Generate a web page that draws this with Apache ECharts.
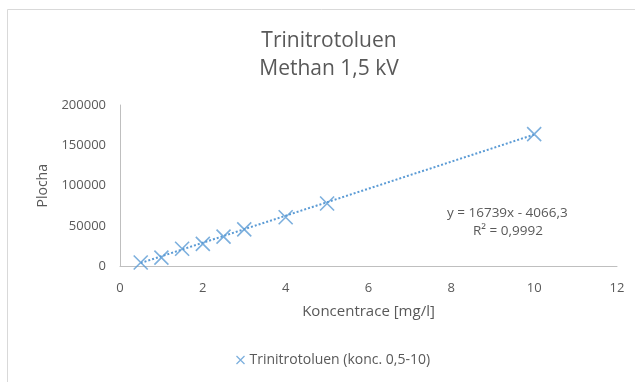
<!DOCTYPE html>
<html>
<head>
<meta charset="utf-8">
<script src="https://cdn.jsdelivr.net/npm/echarts@6/dist/echarts.min.js"></script>
<style>
  html, body { margin: 0; padding: 0; background: #fff; }
  #chart { width: 635px; height: 382px; }
</style>
</head>
<body>
<div id="chart"></div>
<script>
// Calibration data: concentration [mg/l] vs. peak area
const concentrations = [0.5, 1, 1.5, 2, 2.5, 3, 4, 5, 10];
const areas = [5000, 11000, 22000, 28000, 37000, 46000, 61000, 78000, 164000];

// Linear trendline coefficients and fit quality
const slope = 16739;
const intercept = -4066.3;
const rSquared = '0,9992';

const seriesName = 'Trinitrotoluen (konc. 0,5-10)';
const titleLines = ['Trinitrotoluen', 'Methan 1,5 kV'];
const xAxisName = 'Koncentrace [mg/l]';
const yAxisName = 'Plocha';

const points = concentrations.map((c, i) => [c, areas[i]]);
const xFirst = concentrations[0];
const xLast = concentrations[concentrations.length - 1];
const trend = [xFirst, xLast].map(x => [x, slope * x + intercept]);

const textColor = '#595959';
const blue = '#5b9bd5';
const font = 'Open Sans';
const crossPath = 'path://M0,0L10,10M10,0L0,10';

const chart = echarts.init(document.getElementById('chart'));
chart.setOption({
  animation: false,
  backgroundColor: '#fff',
  textStyle: { fontFamily: font, color: textColor },
  title: {
    text: titleLines.join('\n'),
    left: 324,
    textAlign: 'center',
    top: 22,
    textStyle: { fontFamily: font, fontSize: 21, fontWeight: 'normal', color: textColor, lineHeight: 28 }
  },
  legend: {
    top: 348,
    left: 229,
    itemWidth: 8,
    itemHeight: 8,
    itemGap: 4,
    data: [{ name: seriesName, icon: crossPath }],
    textStyle: { fontFamily: font, fontSize: 14, color: textColor },
    itemStyle: { color: 'none', borderColor: blue, borderWidth: 1.3 }
  },
  grid: { left: 120, right: 18, top: 105, bottom: 115.5 },
  xAxis: {
    type: 'value',
    min: 0, max: 12, interval: 2,
    name: xAxisName,
    nameLocation: 'middle',
    nameGap: 38,
    nameTextStyle: { fontFamily: font, fontSize: 15, color: textColor },
    axisLine: { show: true, lineStyle: { color: '#bfbfbf', width: 1 } },
    axisTick: { show: false },
    axisLabel: { fontFamily: font, fontSize: 13, color: textColor, margin: 15 },
    splitLine: { show: false }
  },
  yAxis: {
    type: 'value',
    min: 0, max: 200000, interval: 50000,
    name: yAxisName,
    nameLocation: 'middle',
    nameGap: 70,
    nameRotate: 90,
    nameTextStyle: { fontFamily: font, fontSize: 14, color: textColor },
    axisLine: { show: true, lineStyle: { color: '#bfbfbf', width: 1 } },
    axisTick: { show: false },
    axisLabel: { fontFamily: font, fontSize: 13, color: textColor, margin: 14, formatter: v => String(v) },
    splitLine: { show: false }
  },
  series: [
    {
      name: 'trend',
      type: 'line',
      data: trend,
      symbol: 'none',
      silent: true,
      lineStyle: { color: blue, width: 2, type: [2, 2] },
      z: 1
    },
    {
      name: seriesName,
      type: 'scatter',
      data: points,
      symbol: crossPath,
      symbolSize: 14,
      itemStyle: { color: 'none', borderColor: blue, borderWidth: 1.6 },
      z: 2
    }
  ],
  graphic: [
    {
      type: 'rect',
      shape: { x: 7.5, y: 9.5, width: 640, height: 400 },
      style: { fill: 'none', stroke: '#d9d9d9', lineWidth: 1 },
      silent: true
    },
    {
      type: 'text',
      left: 447,
      top: 206,
      style: {
        text: 'y = ' + slope + 'x - ' + String(-intercept).replace('.', ','),
        fontFamily: font, fontSize: 13.5, fill: textColor
      }
    },
    {
      type: 'text',
      left: 473,
      top: 224,
      style: {
        text: 'R² = ' + rSquared,
        fontFamily: font, fontSize: 13.5, fill: textColor
      }
    }
  ]
});
</script>
</body>
</html>
